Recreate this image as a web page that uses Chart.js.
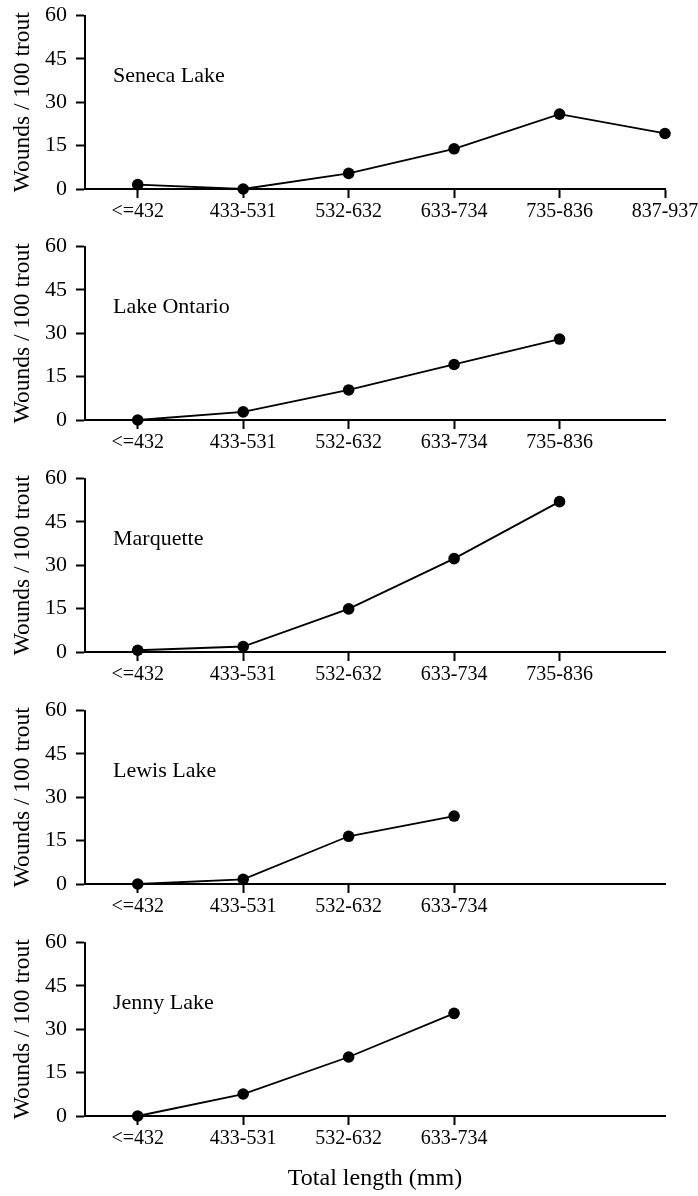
<!DOCTYPE html>
<html><head><meta charset="utf-8">
<script src="https://cdn.jsdelivr.net/npm/chart.js@4/dist/chart.umd.min.js"></script>
<style>
html,body{margin:0;padding:0;background:#fff;}
#wrap{position:relative;width:698px;height:1196px;overflow:hidden;background:#fff;}
canvas{position:absolute;left:0;}
</style></head><body><div id="wrap"></div>
<script>
// ---- data ----
const LENGTH_CLASSES = ['<=432', '433-531', '532-632', '633-734', '735-836', '837-937'];
const LAKES = ['Seneca Lake', 'Lake Ontario', 'Marquette', 'Lewis Lake', 'Jenny Lake'];
const SENECA    = [1.5, 0, 5.4, 13.9, 25.9, 19.2];
const ONTARIO   = [0, 2.8, 10.4, 19.2, 28.0];
const MARQUETTE = [0.6, 1.9, 14.9, 32.3, 52.0];
const LEWIS     = [0, 1.6, 16.5, 23.5];
const JENNY     = [0, 7.6, 20.4, 35.5];
const SERIES = [SENECA, ONTARIO, MARQUETTE, LEWIS, JENNY];
const Y_TICKS = [0, 15, 30, 45, 60];
const Y_TITLE = 'Wounds / 100 trout';
const X_TITLE = 'Total length (mm)';

// ---- layout / style ----
const FONT = '"Liberation Serif","Times New Roman",serif';
const TOPS = [0, 231, 463, 695, 927];
const PAD_TOP = 15.5, PLOT_H = 173.5, Y_AXIS_W = 85, PAD_RIGHT = 33;
Chart.defaults.font.family = FONT;
Chart.defaults.color = '#000';

const lakeLabel = {
  id: 'lakeLabel',
  afterDraw(chart, args, opts) {
    const {ctx, chartArea} = chart;
    ctx.save();
    ctx.font = '22px ' + FONT;
    ctx.fillStyle = '#000';
    ctx.textBaseline = 'alphabetic';
    ctx.textAlign = 'left';
    ctx.fillText(opts.text, chartArea.left + 28, chartArea.top + 66);
    ctx.restore();
  }
};

const wrap = document.getElementById('wrap');
SERIES.forEach((vals, i) => {
  const last = i === SERIES.length - 1;
  const h = last ? 1196 - TOPS[i] : 231;
  const xAxisH = h - PAD_TOP - PLOT_H;
  const cv = document.createElement('canvas');
  cv.width = 698; cv.height = h;
  cv.style.top = TOPS[i] + 'px';
  cv.style.width = '698px'; cv.style.height = h + 'px';
  wrap.appendChild(cv);
  const labels = LENGTH_CLASSES.slice(0, vals.length);
  new Chart(cv, {
    type: 'line',
    data: {
      datasets: [{
        data: vals.map((v, k) => ({x: k, y: v})),
        borderColor: '#000',
        borderWidth: 1.8,
        pointRadius: 5.8,
        pointBackgroundColor: '#000',
        pointBorderWidth: 0,
        pointHoverRadius: 5.8,
        tension: 0,
        clip: false
      }]
    },
    options: {
      responsive: false,
      animation: false,
      devicePixelRatio: 1,
      layout: {padding: {top: PAD_TOP, right: PAD_RIGHT, left: 0, bottom: 0}},
      plugins: {legend: {display: false}, tooltip: {enabled: false}, lakeLabel: {text: LAKES[i]}},
      scales: {
        x: {
          type: 'linear',
          min: -0.5, max: LENGTH_CLASSES.length - 1,
          afterBuildTicks: (axis) => { axis.ticks = labels.map((_, k) => ({value: k})); },
          afterFit: (s) => { s.height = xAxisH; s.paddingLeft = 0; s.paddingRight = 0; },
          ticks: {
            autoSkip: false, maxRotation: 0, padding: 2,
            font: {size: 20, family: FONT}, color: '#000',
            callback: (v) => LENGTH_CLASSES[v] ?? ''
          },
          grid: {display: true, drawOnChartArea: false, drawTicks: true, tickLength: 9, tickWidth: 2, tickColor: '#000'},
          border: {display: true, color: '#000', width: 2},
          title: {display: last, text: X_TITLE, font: {size: 24, family: FONT}, color: '#000', padding: {top: 0, bottom: 3}}
        },
        y: {
          min: 0, max: 60,
          afterBuildTicks: (axis) => { axis.ticks = Y_TICKS.map(v => ({value: v})); },
          afterFit: (s) => { s.width = Y_AXIS_W; s.paddingTop = 0; s.paddingBottom = 0; },
          ticks: {padding: 9, font: {size: 22, family: FONT}, color: '#000'},
          grid: {display: true, drawOnChartArea: false, drawTicks: true, tickLength: 9, tickWidth: 2, tickColor: '#000'},
          border: {display: true, color: '#000', width: 2},
          title: {display: true, text: Y_TITLE, font: {size: 23.5, family: FONT}, color: '#000', padding: {top: 9, bottom: 0}}
        }
      }
    },
    plugins: [lakeLabel]
  });
});
</script>
</body></html>
